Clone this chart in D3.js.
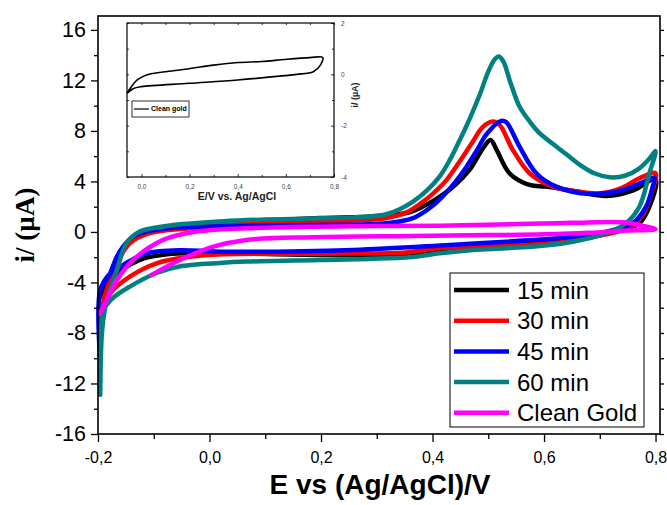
<!DOCTYPE html>
<html><head><meta charset="utf-8">
<script src="https://cdn.jsdelivr.net/npm/d3@7"></script>
<style>body{margin:0;background:#fff}svg{display:block}</style>
</head><body>
<svg id="c" width="667" height="505"></svg>
<script>
// ---------- data (E in V vs Ag/AgCl, i in µA) ----------
const seriesNames = ["15 min", "30 min", "45 min", "60 min", "Clean Gold"];
const seriesColors = ["#000000", "#ff0000", "#0000ff", "#008080", "#ff00ff"];

const cv15 = [[-0.197,-5.2],[-0.19,-4.86],[-0.173,-2.75],[-0.155,-1.29],[-0.125,-0.24],[-0.065,0.29],[0.025,0.75],[0.1,0.9],[0.198,1.1],[0.3,1.25],[0.353,1.5],[0.38,1.95],[0.41,2.7],[0.44,3.7],[0.467,4.95],[0.49,6.6],[0.504,7.29],[0.515,6.5],[0.538,4.65],[0.574,3.72],[0.604,3.59],[0.66,3.2],[0.712,2.85],[0.76,3.3],[0.80,4.2],
  [0.789,2.0],[0.771,0.69],[0.741,0.16],[0.682,-0.37],[0.622,-0.77],[0.532,-1.03],[0.413,-1.43],[0.377,-1.78],[0.198,-1.82],[0.019,-1.69],[-0.065,-1.72],[-0.125,-2.22],[-0.178,-3.8],[-0.197,-5.2]];

const cv30 = [[-0.197,-9.7],[-0.194,-7.0],[-0.19,-5.4],[-0.178,-3.8],[-0.166,-2.48],[-0.143,-0.9],[-0.107,-0.1],[-0.035,0.29],[0.025,0.55],[0.1,0.7],[0.198,0.82],[0.28,0.95],[0.317,1.1],[0.353,1.55],[0.38,2.3],[0.40,3.0],[0.425,4.1],[0.449,5.6],[0.47,7.0],[0.49,8.3],[0.508,8.74],[0.52,8.5],[0.544,6.5],[0.574,4.65],[0.616,3.59],[0.66,3.2],[0.70,3.06],[0.74,3.5],[0.771,4.25],[0.800,4.65],
  [0.792,3.0],[0.78,1.6],[0.762,0.6],[0.73,0.0],[0.682,-0.45],[0.622,-0.85],[0.532,-1.1],[0.413,-1.29],[0.353,-1.62],[0.198,-1.72],[0.025,-1.77],[-0.035,-1.96],[-0.095,-2.48],[-0.143,-3.54],[-0.178,-4.86],[-0.193,-6.5],[-0.197,-9.7]];

const cv45 = [[-0.197,-9.4],[-0.196,-4.6],[-0.185,-3.8],[-0.178,-3.27],[-0.166,-1.95],[-0.155,-1.16],[-0.137,-0.37],[-0.113,0.03],[-0.065,0.34],[0.025,0.45],[0.198,0.55],[0.317,0.69],[0.365,1.1],[0.395,1.9],[0.42,2.9],[0.44,3.9],[0.461,5.17],[0.48,6.5],[0.497,7.75],[0.523,8.8],[0.532,8.7],[0.556,6.76],[0.586,4.65],[0.622,3.59],[0.682,3.0],[0.74,3.3],[0.775,3.9],[0.798,4.3],
  [0.795,3.6],[0.783,2.0],[0.759,0.69],[0.712,0.03],[0.652,-0.37],[0.532,-0.77],[0.431,-1.03],[0.258,-1.43],[0.019,-1.56],[-0.053,-1.45],[-0.113,-1.69],[-0.143,-2.3],[-0.165,-2.9],[-0.178,-3.27],[-0.196,-4.6],[-0.197,-9.4]];

const cv60 = [[-0.196,-12.9],[-0.193,-8.0],[-0.188,-6.2],[-0.180,-4.8],[-0.166,-3.0],[-0.149,-0.9],[-0.125,0.03],[-0.095,0.35],[-0.065,0.55],[0.025,0.85],[0.1,0.98],[0.198,1.08],[0.28,1.2],[0.317,1.4],[0.341,1.8],[0.365,2.4],[0.389,3.25],[0.413,4.4],[0.431,5.7],[0.449,7.29],[0.467,9.0],[0.485,10.9],[0.50,12.7],[0.512,13.7],[0.519,13.9],[0.527,13.5],[0.54,11.8],[0.556,9.93],[0.575,8.7],[0.592,7.82],[0.615,7.0],[0.640,6.15],[0.665,5.3],[0.69,4.65],[0.718,4.33],[0.745,4.45],[0.77,5.0],[0.788,5.75],[0.800,6.4],
  [0.789,4.65],[0.771,2.0],[0.747,0.69],[0.712,-0.1],[0.652,-0.77],[0.592,-1.11],[0.532,-1.29],[0.473,-1.43],[0.413,-1.69],[0.365,-1.98],[0.198,-2.22],[0.066,-2.35],[0.019,-2.45],[-0.05,-2.7],[-0.095,-3.25],[-0.143,-4.33],[-0.175,-5.3],[-0.19,-6.2],[-0.196,-12.9]];

const cvClean = [[-0.104,-3.4],[-0.053,-2.22],[0.007,-1.16],[0.066,-0.63],[0.186,-0.42],[0.365,-0.32],[0.5,-0.25],[0.6,-0.19],[0.68,-0.07],[0.74,0.1],[0.80,0.21],
  [0.77,0.55],[0.747,0.75],[0.65,0.72],[0.55,0.62],[0.413,0.5],[0.186,0.42],[0.066,0.29],[-0.023,0.03],[-0.083,-0.63],[-0.137,-2.22],[-0.166,-3.8],[-0.19,-5.9],[-0.197,-6.5]];

const inset = [[-0.06,-0.74],[-0.04,-0.45],[-0.015,-0.2],[0.01,-0.07],[0.04,0.02],[0.09,0.09],[0.198,0.22],[0.30,0.36],[0.40,0.46],[0.50,0.5],[0.596,0.58],[0.70,0.65],[0.753,0.66],
  [0.745,0.38],[0.714,0.1],[0.645,0.0],[0.596,-0.05],[0.40,-0.22],[0.198,-0.35],[0.0,-0.48],[-0.035,-0.56],[-0.06,-0.74]];

const xTicks = [-0.2, 0.0, 0.2, 0.4, 0.6, 0.8];
const xTickLabels = ["-0,2", "0,0", "0,2", "0,4", "0,6", "0,8"];
const xMinor = [-0.1, 0.1, 0.3, 0.5, 0.7];
const yTicks = [-16, -12, -8, -4, 0, 4, 8, 12, 16];
const yTickLabels = ["-16", "-12", "-8", "-4", "0", "4", "8", "12", "16"];
const yMinor = [-14, -10, -6, -2, 2, 6, 10, 14];
const insetXTicks = [0.0, 0.2, 0.4, 0.6, 0.8];
const insetXTickLabels = ["0,0", "0,2", "0,4", "0,6", "0,8"];
const insetXMinor = [0.1, 0.3, 0.5, 0.7];
const insetYTicks = [-4, -2, 0, 2];
const insetYTickLabels = ["-4", "-2", "0", "2"];
const insetYMinor = [-3, -1, 1];

// ---------- drawing ----------
const svg = d3.select("#c");
const L = 98, R = 660, T = 16, B = 434;
const x = d3.scaleLinear().domain([-0.2, 0.808]).range([L, R]);
const y = d3.scaleLinear().domain([-16, 17.1]).range([B, T]);

const line = d3.line().x(d => x(d[0])).y(d => y(d[1])).curve(d3.curveCatmullRom.alpha(0.5));
const allSeries = [cv15, cv30, cv45, cv60, cvClean];

const plot = svg.append("g");
plot.selectAll("path.cv").data(allSeries).join("path")
  .attr("class", "cv")
  .attr("d", d => line(d))
  .attr("fill", "none")
  .attr("stroke", (d, i) => seriesColors[i])
  .attr("stroke-width", 4.5)
  .attr("stroke-linejoin", "round")
  .attr("stroke-linecap", "round");

// axes
const axL = svg.append("g").attr("transform", `translate(${L},0)`)
  .call(d3.axisLeft(y).tickValues(yTicks).tickSize(7).tickSizeOuter(0).tickPadding(5).tickFormat((d, i) => yTickLabels[i]));
svg.append("g").attr("transform", `translate(${L},0)`)
  .call(d3.axisLeft(y).tickValues(yMinor).tickSize(4).tickSizeOuter(0).tickFormat(""));
const axB = svg.append("g").attr("transform", `translate(0,${B})`)
  .call(d3.axisBottom(x).tickValues(xTicks).tickSize(8).tickSizeOuter(0).tickPadding(10).tickFormat((d, i) => xTickLabels[i]));
svg.append("g").attr("transform", `translate(0,${B})`)
  .call(d3.axisBottom(x).tickValues(xMinor).tickSize(5).tickSizeOuter(0).tickFormat(""));
svg.append("g").attr("transform", `translate(${R},0)`)
  .call(d3.axisLeft(y).tickValues(yTicks.concat(yMinor)).tickSize(-4).tickSizeOuter(0).tickFormat(""));

svg.selectAll(".tick line").attr("stroke", "#000").attr("stroke-width", 1.3);
svg.selectAll(".domain").attr("stroke", "none");
axL.selectAll("text").style("font-family", "Liberation Sans, Arial, sans-serif").style("font-size", "21.5px").attr("fill", "#000");
axB.selectAll("text").style("font-family", "Liberation Sans, Arial, sans-serif").style("font-size", "16px").attr("fill", "#000");

svg.append("rect").attr("x", L).attr("y", T).attr("width", R - L).attr("height", B - T)
  .attr("fill", "none").attr("stroke", "#000").attr("stroke-width", 1.6);

// titles
svg.append("text").attr("x", 380).attr("y", 494).attr("text-anchor", "middle")
  .style("font-family", "Liberation Sans, Arial, sans-serif").style("font-weight", "bold").style("font-size", "28px")
  .text("E vs (Ag/AgCl)/V");
svg.append("text").attr("transform", "translate(34,225) rotate(-90)").attr("text-anchor", "middle")
  .style("font-family", "Liberation Serif, Times New Roman, serif").style("font-weight", "bold").style("font-size", "27px")
  .text("i/ (µA)");

// legend
const lg = svg.append("g");
lg.append("rect").attr("x", 450).attr("y", 273).attr("width", 194).attr("height", 154)
  .attr("fill", "#fff").attr("stroke", "#000").attr("stroke-width", 1);
seriesNames.forEach((n, i) => {
  const yy = 290 + i * 30.7;
  lg.append("line").attr("x1", 454).attr("x2", 509).attr("y1", yy).attr("y2", yy)
    .attr("stroke", seriesColors[i]).attr("stroke-width", 4.5);
  lg.append("text").attr("x", 517).attr("y", yy).attr("dy", "0.36em")
    .style("font-family", "Liberation Sans, Arial, sans-serif").style("font-size", "24px").text(n);
});

// inset
const iL = 127, iR = 334, iT = 23, iB = 177;
const ix = d3.scaleLinear().domain([-0.06, 0.8]).range([iL, iR]);
const iy = d3.scaleLinear().domain([-4, 2]).range([iB, iT]);
const ig = svg.append("g");
ig.append("rect").attr("x", iL).attr("y", iT).attr("width", iR - iL).attr("height", iB - iT)
  .attr("fill", "#fff").attr("stroke", "none");
const iline = d3.line().x(d => ix(d[0])).y(d => iy(d[1])).curve(d3.curveCatmullRom.alpha(0.5));
ig.append("path").attr("d", iline(inset)).attr("fill", "none").attr("stroke", "#000").attr("stroke-width", 1.6);

ig.append("g").attr("transform", `translate(0,${iB})`)
  .call(d3.axisBottom(ix).tickValues(insetXTicks).tickSize(-3).tickSizeOuter(0).tickPadding(7).tickFormat((d, i) => insetXTickLabels[i]));
ig.append("g").attr("transform", `translate(0,${iB})`)
  .call(d3.axisBottom(ix).tickValues(insetXMinor).tickSize(-2).tickSizeOuter(0).tickFormat(""));
ig.append("g").attr("transform", `translate(0,${iT})`)
  .call(d3.axisTop(ix).tickValues(insetXTicks.concat(insetXMinor)).tickSize(-2).tickSizeOuter(0).tickFormat(""));
ig.append("g").attr("transform", `translate(${iR},0)`)
  .call(d3.axisRight(iy).tickValues(insetYTicks).tickSize(-3).tickSizeOuter(0).tickPadding(7).tickFormat((d, i) => insetYTickLabels[i]));
ig.append("g").attr("transform", `translate(${iR},0)`)
  .call(d3.axisRight(iy).tickValues(insetYMinor).tickSize(-2).tickSizeOuter(0).tickFormat(""));
ig.append("g").attr("transform", `translate(${iL},0)`)
  .call(d3.axisLeft(iy).tickValues(insetYTicks.concat(insetYMinor)).tickSize(-2).tickSizeOuter(0).tickFormat(""));
ig.selectAll(".domain").attr("stroke", "none");
ig.selectAll(".tick line").attr("stroke", "#000").attr("stroke-width", 0.8);
ig.selectAll(".tick text").style("font-family", "Liberation Sans, Arial, sans-serif").style("font-size", "6.5px").attr("fill", "#444");
ig.append("rect").attr("x", iL).attr("y", iT).attr("width", iR - iL).attr("height", iB - iT)
  .attr("fill", "none").attr("stroke", "#000").attr("stroke-width", 1.2);

ig.append("text").attr("x", 237).attr("y", 200).attr("text-anchor", "middle")
  .style("font-family", "Liberation Sans, Arial, sans-serif").style("font-weight", "bold").style("font-size", "10.5px").attr("fill", "#222")
  .text("E/V vs. Ag/AgCl");
ig.append("text").attr("transform", "translate(358,95) rotate(-90)").attr("text-anchor", "middle")
  .style("font-family", "Liberation Sans, Arial, sans-serif").style("font-weight", "bold").style("font-size", "9px").attr("fill", "#222")
  .text("i/ (µA)");
ig.append("rect").attr("x", 132).attr("y", 101).attr("width", 57).attr("height", 16)
  .attr("fill", "#fff").attr("stroke", "#000").attr("stroke-width", 0.8);
ig.append("line").attr("x1", 134).attr("x2", 149).attr("y1", 109).attr("y2", 109).attr("stroke", "#000").attr("stroke-width", 1.2);
ig.append("text").attr("x", 151).attr("y", 109).attr("dy", "0.35em")
  .style("font-family", "Liberation Sans, Arial, sans-serif").style("font-weight", "bold").style("font-size", "7px")
  .text("Clean gold");
</script>
</body></html>
